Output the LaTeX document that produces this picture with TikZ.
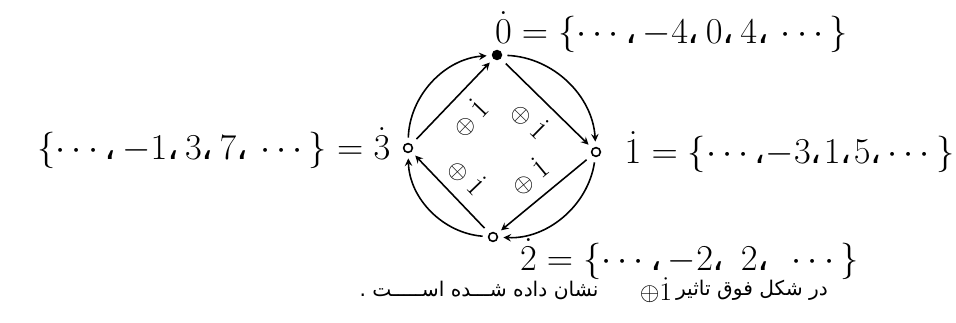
\documentclass[tikz,border=0pt]{standalone}
\usepackage{amsmath}
\usepackage{fontspec}
\newfontfamily\arabicfont[Script=Arabic]{DejaVu Sans}
\TeXXeTstate=1
\newcommand{\pc}{\mbox{\arabicfont ،}\,}
\newcommand{\pcc}{\mbox{\arabicfont ،}}
\usetikzlibrary{positioning}

\begin{document}
\begin{tikzpicture}[line width=0.9pt,
  pt/.style={circle,draw,inner sep=0pt,minimum size=5pt},
  ring/.style={->,>=stealth,shorten <=3pt,shorten >=3pt},
  edge/.style={->,>=stealth,shorten <=4pt,shorten >=3pt},
  lbl/.style={sloped,font=\Large,inner sep=6pt},
  setlbl/.style={font=\huge,inner sep=1pt},
  captxt/.style={font=\fontsize{11.5}{14}\selectfont\arabicfont}]
  \useasboundingbox (0,0) rectangle (19.12,6.44);
  \node[pt,fill] (p0) at (9.94,5.34) {};
  \node[pt] (p1) at (11.92,3.40) {};
  \node[pt] (p2) at (9.86,1.70) {};
  \node[pt] (p3) at (8.16,3.48) {};
  % inner arrows
  \draw[edge] (p0) -- node[lbl,below] {$\oplus\;\dot{1}$} (p1);
  \draw[edge] (p1) -- node[lbl,above] {$\oplus\;\dot{1}$} (p2);
  \draw[edge] (p2) -- node[lbl,above] {$\oplus\;\dot{1}$} (p3);
  \draw[edge] (p3) -- node[lbl,below] {$\oplus\;\dot{1}$} (p0);
  % outer circle
  \draw[ring] (p0) to[bend left=42] (p1);
  \draw[ring] (p1) to[bend left=42] (p2);
  \draw[ring] (p2) to[bend left=42] (p3);
  \draw[ring] (p3) to[bend left=42] (p0);
  % the classes
  \node[setlbl,anchor=west] (set0) at (9.85,5.8) {$\dot{0}=\{\cdots\pc{-4}\pc0\pc4\pc\cdots\}$};
  \node[setlbl,font=\fontsize{19.5}{23}\selectfont,right=0.42 of p1] (set1) {$\dot{1}=\{\cdots\pcc{-3}\pcc\mkern1mu1\pcc\mkern1mu5\pcc\cdots\}$};
  \node[setlbl,anchor=west] (set2) at (10.35,1.26) {$\dot{2}=\{\cdots\pc{-2}\pc\;2\pc\;\cdots\}$};
  \node[setlbl,left=0.2 of p3] (set3) {$\{\cdots\pc{-1}\pc3\pc7\pc\cdots\}=\dot{3}$};
  % caption line
  \node[captxt] (cap1) at (15.04,0.64) {\beginR در شکل فوق تاثیر\endR};
  \node[font=\Large] (cap2) at (13.12,0.64) {$\oplus\dot{1}$};
  \node[captxt] (cap3) at (9.58,0.64) {\beginR نشان داده شـــده اســـــت .\endR};
\end{tikzpicture}
\end{document}
